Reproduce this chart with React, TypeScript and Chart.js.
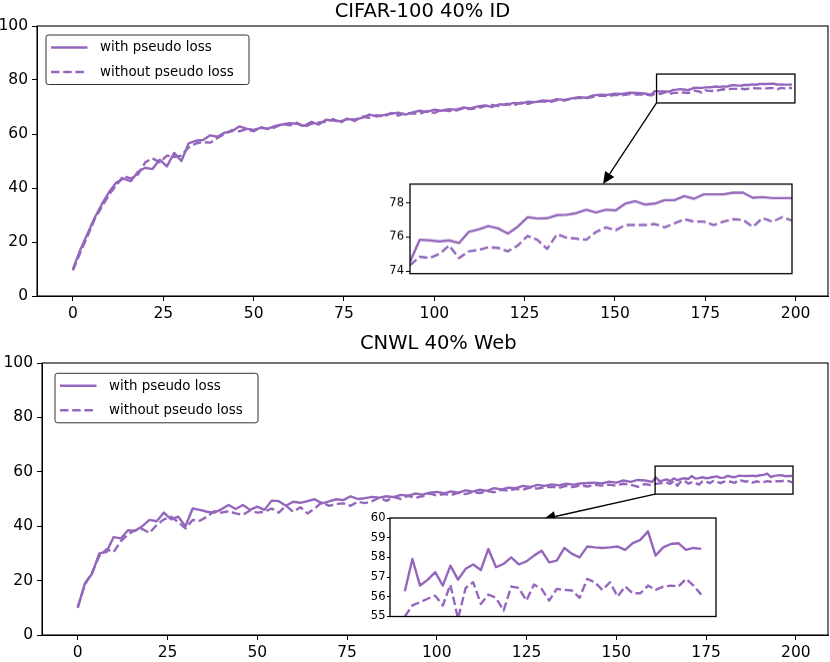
import { useEffect, useRef } from 'react';
import { Chart, registerables, type ChartConfiguration, type Plugin } from 'chart.js';

Chart.register(...registerables);
Chart.defaults.font.family = "'DejaVu Sans', sans-serif";
Chart.defaults.color = '#000';

const PURPLE = '#9467bd';
const DASH = [8.5, 3.7];
const LINE_W = 2.4;

// epochs shown in the main panels (every 2nd epoch) and the zoomed tail (every epoch)
const headEpochs = [
    0, 2, 4, 6, 8, 10, 12, 14, 16, 18, 20, 22, 24, 26, 28, 30, 32, 34, 36, 38,
    40, 42, 44, 46, 48, 50, 52, 54, 56, 58, 60, 62, 64, 66, 68, 70, 72, 74, 76, 78,
    80, 82, 84, 86, 88, 90, 92, 94, 96, 98, 100, 102, 104, 106, 108, 110, 112, 114, 116, 118,
    120, 122, 124, 126, 128, 130, 132, 134, 136, 138, 140, 142, 144, 146, 148, 150, 152, 154, 156, 158,
];
const tailEpochs = [
    160, 161, 162, 163, 164, 165, 166, 167, 168, 169, 170, 171, 172, 173, 174, 175, 176, 177, 178, 179,
    180, 181, 182, 183, 184, 185, 186, 187, 188, 189, 190, 191, 192, 193, 194, 195, 196, 197, 198, 199,
];

const xTickValues = [0, 25, 50, 75, 100, 125, 150, 175, 200];
const yTickValues = [0, 20, 40, 60, 80, 100];
const cifarInsetTicks = [74, 76, 78];
const cnwlInsetTicks = [55, 56, 57, 58, 59, 60];

const seriesLabels = ['with pseudo loss', 'without pseudo loss'];

// CIFAR-100 40% ID
const cifarWithHead = [
    10, 17, 23, 29, 34, 38.5, 42, 43.5, 42.5, 46,
    47.5, 47, 50.5, 48, 53, 50, 56.5, 57.5, 57.8, 59.5,
    59, 60.5, 61, 62.8, 62, 61.5, 62.3, 62, 63, 63.5,
    64, 63.8, 63, 64.5, 63.5, 65.3, 65, 64.7, 65.5, 65.4,
    66, 67.2, 66.5, 67, 67.5, 67.9, 67.2, 68, 68.6, 68.2,
    69, 68.6, 69.2, 69, 69.8, 69.5, 70.2, 70.6, 70, 71,
    70.8, 71.5, 71.3, 72, 71.8, 72.4, 72.2, 72.9, 72.6, 73.2,
    73.6, 73.4, 74.3, 74.6, 74.5, 74.9, 74.8, 75.3, 75.2, 75.0,
];
const cifarWithoutHead = [
    9.5, 16, 22, 28.5, 33, 37.5, 41, 44.5, 43.5, 45,
    49.5, 51, 49.5, 52, 51.5, 52, 55, 56.5, 57, 56.8,
    58.5, 60, 61.5, 61, 61.8, 61, 62.5, 61.8, 62.5, 63.8,
    63.2, 64.2, 62.5, 63.8, 64.3, 64.5, 65.5, 64.2, 65.8, 64.8,
    66.5, 66, 67, 66.4, 67.8, 66.8, 67.8, 67.6, 67.5, 68.5,
    67.8, 69, 68.5, 68.7, 69.5, 69.2, 69.6, 70.3, 70.8, 70.2,
    71.2, 70.6, 71.6, 71.2, 72, 72.1, 71.8, 72.6, 72.4, 73,
    73.4, 73.2, 73.8, 74.2, 74, 74.5, 74.3, 74.8, 74.6, 74.6,
];
const cifarWithTail = [
    74.54, 75.84, 75.8, 75.74, 75.8, 75.64, 76.3, 76.44, 76.64, 76.5,
    76.2, 76.6, 77.16, 77.08, 77.1, 77.28, 77.3, 77.4, 77.6, 77.44,
    77.6, 77.56, 77.96, 78.1, 77.9, 77.96, 78.16, 78.16, 78.4, 78.24,
    78.5, 78.5, 78.5, 78.6, 78.6, 78.3, 78.34, 78.28, 78.28, 78.28,
];
const cifarWithoutTail = [
    74.34, 74.84, 74.76, 75.0, 75.5, 74.76, 75.16, 75.24, 75.4, 75.36,
    75.16, 75.5, 76.06, 75.84, 75.3, 76.16, 75.96, 75.9, 75.84, 76.3,
    76.56, 76.4, 76.7, 76.7, 76.7, 76.76, 76.56, 76.8, 77.04, 76.9,
    76.9, 76.7, 76.9, 77.04, 77.0, 76.6, 77.1, 76.9, 77.16, 76.96,
];

// CNWL 40% Web
const cnwlWithHead = [
    10, 19, 22.5, 30, 30.5, 36, 35.5, 38.5, 38.3, 40,
    42.3, 41.8, 45, 42.5, 43.5, 40, 46.5, 46, 45.3, 45,
    46.2, 47.8, 46.3, 47.8, 46, 47.2, 46, 49.4, 49.2, 47.5,
    49, 48.6, 49.2, 49.9, 48.4, 49.1, 49.9, 49.6, 51, 50,
    50.3, 50.8, 50.5, 51, 50.7, 51.5, 51.2, 52, 51.6, 52.3,
    52.6, 52.1, 52.8, 52.3, 53.2, 52.7, 53.4, 53, 54, 53.5,
    54.2, 54, 54.8, 54.4, 55.2, 54.8, 55.4, 55, 55.6, 55.3,
    55.7, 55.9, 56, 55.7, 56.4, 56, 56.8, 56.3, 57, 56.8,
];
const cnwlWithoutHead = [
    10.3, 18.5, 23, 29, 31.5, 30.5, 34.5, 37, 38.5, 39,
    37.5, 40.5, 42.5, 43.5, 41.5, 39.2, 42.3, 42, 43.5, 45.5,
    45, 45.5, 44.7, 44.2, 45.8, 45, 45.3, 46.5, 45, 47.5,
    45.3, 47, 44.7, 46.5, 48.8, 47.5, 48.2, 48.4, 47.5, 49,
    48.5, 49.2, 50.5, 49.3, 50.8, 50, 51.2, 50.4, 51, 52,
    51.3, 51.8, 51.5, 52.3, 51.8, 52.5, 52.2, 52.9, 52.5, 53.4,
    53, 53.7, 53.4, 54.2, 53.8, 54.3, 54.5, 54.1, 54.8, 54.4,
    55, 54.6, 55.2, 54.9, 55.3, 54.9, 55.6, 55.2, 54.5, 55.5,
];
const cnwlWithTail = [
    56.28, 57.92, 56.57, 56.86, 57.25, 56.57, 57.58, 56.87, 57.42, 57.64,
    57.36, 58.43, 57.5, 57.67, 58.0, 57.64, 57.8, 58.09, 58.34, 57.75,
    57.84, 58.48, 58.18, 58.0, 58.55, 58.51, 58.48, 58.51, 58.55, 58.38,
    58.72, 58.89, 59.32, 58.09, 58.51, 58.68, 58.72, 58.38, 58.48, 58.43,
];
const cnwlWithoutTail = [
    55.0, 55.56, 55.73, 55.9, 56.06, 55.56, 56.62, 54.88, 56.45, 56.74,
    55.64, 56.11, 55.95, 55.3, 56.52, 56.45, 55.81, 56.62, 56.4, 55.81,
    56.4, 56.35, 56.32, 55.95, 56.91, 56.74, 56.35, 56.74, 56.01, 56.52,
    56.18, 56.18, 56.57, 56.35, 56.52, 56.57, 56.52, 56.91, 56.57, 56.11,
];

const points = (xs: number[], ys: number[]) => xs.map((x, i) => ({ x, y: ys[i] }));

const makeDatasets = (withVals: number[], withoutVals: number[], xs: number[]) => [
    {
        label: seriesLabels[0],
        data: points(xs, withVals),
        borderColor: PURPLE,
        borderWidth: LINE_W,
        borderJoinStyle: 'round' as const,
        pointRadius: 0,
        tension: 0,
    },
    {
        label: seriesLabels[1],
        data: points(xs, withoutVals),
        borderColor: PURPLE,
        borderWidth: LINE_W,
        borderDash: DASH,
        borderJoinStyle: 'round' as const,
        pointRadius: 0,
        tension: 0,
    },
];

const framePlugin = (lineWidth: number, fill: boolean): Plugin => ({
    id: 'frame',
    beforeDraw(chart) {
        if (!fill) return;
        const { ctx, chartArea: a } = chart;
        ctx.save();
        ctx.fillStyle = '#fff';
        ctx.fillRect(a.left, a.top, a.right - a.left, a.bottom - a.top);
        ctx.restore();
    },
    afterDraw(chart) {
        const { ctx, chartArea: a } = chart;
        ctx.save();
        ctx.strokeStyle = '#000';
        ctx.lineWidth = lineWidth;
        ctx.strokeRect(a.left, a.top, a.right - a.left, a.bottom - a.top);
        ctx.restore();
    },
});

const titlePlugin = (text: string, gap: number, shift: number): Plugin => ({
    id: 'panelTitle',
    afterDraw(chart) {
        const { ctx, chartArea: a } = chart;
        ctx.save();
        ctx.font = "19.5px 'DejaVu Sans', sans-serif";
        ctx.fillStyle = '#000';
        ctx.textAlign = 'center';
        ctx.textBaseline = 'alphabetic';
        ctx.fillText(text, (a.left + a.right) / 2 + shift, a.top - gap);
        ctx.restore();
    },
});

const legendPlugin = (dx: number, dy: number): Plugin => ({
    id: 'boxLegend',
    afterDraw(chart) {
        const { ctx, chartArea: a } = chart;
        const x = a.left + dx;
        const y = a.top + dy;
        ctx.save();
        ctx.beginPath();
        ctx.roundRect(x, y, 203, 49.5, 2.5);
        ctx.fillStyle = 'rgba(255,255,255,0.8)';
        ctx.fill();
        ctx.strokeStyle = '#333';
        ctx.lineWidth = 1;
        ctx.stroke();
        ctx.font = "13.4px 'DejaVu Sans', sans-serif";
        ctx.textBaseline = 'middle';
        chart.data.datasets.forEach((ds: any, i) => {
            const rowY = y + 12.5 + i * 24.5;
            ctx.beginPath();
            ctx.setLineDash(ds.borderDash || []);
            ctx.strokeStyle = ds.borderColor;
            ctx.lineWidth = LINE_W;
            ctx.moveTo(x + 5, rowY);
            ctx.lineTo(x + 41.5, rowY);
            ctx.stroke();
            ctx.setLineDash([]);
            ctx.fillStyle = '#000';
            ctx.fillText(ds.label, x + 54, rowY + 0.5);
        });
        ctx.restore();
    },
});

type ZoomBox = { x0: number; x1: number; y0: number; y1: number };

const zoomPlugin = (box: ZoomBox, tip: { x: number; y: number }): Plugin => ({
    id: 'zoomMark',
    afterDatasetsDraw(chart) {
        const { ctx } = chart;
        const xs = chart.scales.x;
        const ys = chart.scales.y;
        const left = xs.getPixelForValue(box.x0);
        const right = xs.getPixelForValue(box.x1);
        const top = ys.getPixelForValue(box.y1);
        const bottom = ys.getPixelForValue(box.y0);
        const tx = xs.getPixelForValue(tip.x);
        const ty = ys.getPixelForValue(tip.y);
        ctx.save();
        ctx.strokeStyle = '#000';
        ctx.fillStyle = '#000';
        ctx.lineWidth = 1.3;
        ctx.strokeRect(left, top, right - left, bottom - top);
        // arrow from the box corner to the inset
        const ang = Math.atan2(ty - bottom, tx - left);
        const headLen = 12;
        const headHalf = 5.5;
        const bx = tx - headLen * Math.cos(ang);
        const by = ty - headLen * Math.sin(ang);
        ctx.beginPath();
        ctx.moveTo(left, bottom);
        ctx.lineTo(bx, by);
        ctx.stroke();
        ctx.beginPath();
        ctx.moveTo(tx, ty);
        ctx.lineTo(bx + headHalf * Math.sin(ang), by - headHalf * Math.cos(ang));
        ctx.lineTo(bx - headHalf * Math.sin(ang), by + headHalf * Math.cos(ang));
        ctx.closePath();
        ctx.fill();
        ctx.restore();
    },
});

type InsetSpec = {
    left: number;
    top: number;
    width: number;
    height: number;
    xMin: number;
    xMax: number;
    yMin: number;
    yMax: number;
    ticks: number[];
    tickLength: number;
    tickPadding: number;
};

interface PanelProps {
    title: string;
    titleGap: number;
    titleShift: number;
    withHead: number[];
    withoutHead: number[];
    withTail: number[];
    withoutTail: number[];
    areaLeft: number;
    areaTop: number;
    areaBottom: number;
    legendDx: number;
    legendDy: number;
    zoomBox: ZoomBox;
    arrowTip: { x: number; y: number };
    inset: InsetSpec;
}

const PANEL_W = 830;
const PANEL_H = 331;
const AREA_RIGHT = 828;
const INSET_AXIS_W = 34;
const INSET_PAD = 10;

function Panel(props: PanelProps) {
    const mainRef = useRef<HTMLCanvasElement>(null);
    const insetRef = useRef<HTMLCanvasElement>(null);
    const { inset } = props;

    useEffect(() => {
        if (!mainRef.current || !insetRef.current) return;

        const allEpochs = headEpochs.concat(tailEpochs);
        const mainConfig: ChartConfiguration<'line'> = {
            type: 'line',
            data: {
                datasets: makeDatasets(
                    props.withHead.concat(props.withTail),
                    props.withoutHead.concat(props.withoutTail),
                    allEpochs
                ),
            },
            options: {
                animation: false,
                responsive: true,
                maintainAspectRatio: false,
                events: [],
                layout: {
                    padding: { top: props.areaTop, right: PANEL_W - AREA_RIGHT, left: 0, bottom: 0 },
                },
                plugins: {
                    legend: { display: false },
                    tooltip: { enabled: false },
                },
                scales: {
                    x: {
                        type: 'linear',
                        min: -9.95,
                        max: 208.95,
                        afterBuildTicks: (s) => {
                            s.ticks = xTickValues.map((v) => ({ value: v }));
                        },
                        afterFit: (s) => {
                            s.height = PANEL_H - props.areaBottom;
                        },
                        grid: { drawOnChartArea: false, tickLength: 5, color: '#000' },
                        border: { color: '#000' },
                        ticks: { font: { size: 15.5 }, padding: 4, maxRotation: 0, autoSkip: false },
                    },
                    y: {
                        type: 'linear',
                        min: 0,
                        max: 100,
                        afterBuildTicks: (s) => {
                            s.ticks = yTickValues.map((v) => ({ value: v }));
                        },
                        afterFit: (s) => {
                            s.width = props.areaLeft;
                        },
                        grid: { drawOnChartArea: false, tickLength: 5, color: '#000' },
                        border: { color: '#000' },
                        ticks: { font: { size: 15.5 }, padding: 4 },
                    },
                },
            },
            plugins: [
                framePlugin(1.1, false),
                titlePlugin(props.title, props.titleGap, props.titleShift),
                zoomPlugin(props.zoomBox, props.arrowTip),
                legendPlugin(props.legendDx, props.legendDy),
            ],
        };

        const insetConfig: ChartConfiguration<'line'> = {
            type: 'line',
            data: { datasets: makeDatasets(props.withTail, props.withoutTail, tailEpochs) },
            options: {
                animation: false,
                responsive: true,
                maintainAspectRatio: false,
                events: [],
                layout: { padding: { top: INSET_PAD, bottom: INSET_PAD, right: 3, left: 0 } },
                plugins: {
                    legend: { display: false },
                    tooltip: { enabled: false },
                },
                scales: {
                    x: { type: 'linear', min: inset.xMin, max: inset.xMax, display: false },
                    y: {
                        type: 'linear',
                        min: inset.yMin,
                        max: inset.yMax,
                        afterBuildTicks: (s) => {
                            s.ticks = inset.ticks.map((v) => ({ value: v }));
                        },
                        afterFit: (s) => {
                            s.width = INSET_AXIS_W;
                        },
                        grid: { drawOnChartArea: false, tickLength: inset.tickLength, color: '#000' },
                        border: { display: false },
                        ticks: { font: { size: 11.5 }, padding: inset.tickPadding },
                    },
                },
            },
            plugins: [framePlugin(1.3, true)],
        };

        const mainChart = new Chart(mainRef.current, mainConfig);
        const insetChart = new Chart(insetRef.current, insetConfig);

        return () => {
            mainChart.destroy();
            insetChart.destroy();
        };
    }, []);

    return (
        <div style={{ position: 'relative', width: PANEL_W, height: PANEL_H }}>
            <div style={{ position: 'absolute', left: 0, top: 0, width: PANEL_W, height: PANEL_H }}>
                <canvas ref={mainRef}></canvas>
            </div>
            <div
                style={{
                    position: 'absolute',
                    left: inset.left - INSET_AXIS_W,
                    top: inset.top - INSET_PAD,
                    width: inset.width + INSET_AXIS_W + 3,
                    height: inset.height + INSET_PAD * 2,
                }}
            >
                <canvas ref={insetRef}></canvas>
            </div>
        </div>
    );
}

export default function App() {
    return (
        <div style={{ position: 'absolute', left: 0, top: 0, width: 830, height: 662, background: '#fff' }}>
            <Panel
                title='CIFAR-100 40% ID'
                titleGap={9.3}
                titleShift={-10}
                withHead={cifarWithHead}
                withoutHead={cifarWithoutHead}
                withTail={cifarWithTail}
                withoutTail={cifarWithoutTail}
                areaLeft={37}
                areaTop={26}
                areaBottom={296}
                legendDx={9}
                legendDy={9}
                zoomBox={{ x0: 161.5, x1: 199.8, y0: 71.5, y1: 82.2 }}
                arrowTip={{ x: 146.7, y: 41.5 }}
                inset={{
                    left: 410,
                    top: 184,
                    width: 382,
                    height: 88.7,
                    xMin: 160,
                    xMax: 199,
                    yMin: 73.85,
                    yMax: 79.1,
                    ticks: cifarInsetTicks,
                    tickLength: 4,
                    tickPadding: 2,
                }}
            />
            <Panel
                title='CNWL 40% Web'
                titleGap={13.7}
                titleShift={3.3}
                withHead={cnwlWithHead}
                withoutHead={cnwlWithoutHead}
                withTail={cnwlWithTail}
                withoutTail={cnwlWithoutTail}
                areaLeft={42}
                areaTop={32}
                areaBottom={304}
                legendDx={13}
                legendDy={10.3}
                zoomBox={{ x0: 160.8, x1: 199.2, y0: 51.8, y1: 62.1 }}
                arrowTip={{ x: 129.7, y: 42.6 }}
                inset={{
                    left: 390,
                    top: 186.5,
                    width: 326,
                    height: 98.5,
                    xMin: 158.05,
                    xMax: 200.95,
                    yMin: 55,
                    yMax: 60,
                    ticks: cnwlInsetTicks,
                    tickLength: 3,
                    tickPadding: 1.5,
                }}
            />
        </div>
    );
}
